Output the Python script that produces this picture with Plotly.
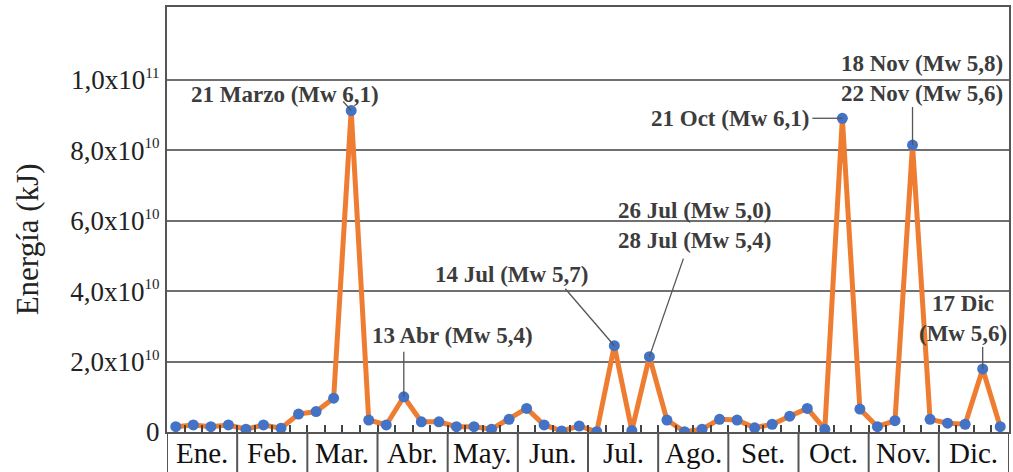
import plotly.graph_objects as go

months = ["Ene.", "Feb.", "Mar.", "Abr.", "May.", "Jun.", "Jul.", "Ago.", "Set.", "Oct.", "Nov.", "Dic."]
weeks_per_month = 4

# Weekly energy (units of 1e10 kJ), 4 values per month
energy_e10 = [
    0.15, 0.20, 0.15, 0.20,   # Ene
    0.08, 0.20, 0.11, 0.51,   # Feb
    0.58, 0.96, 9.13, 0.34,   # Mar
    0.20, 1.00, 0.29, 0.29,   # Abr
    0.15, 0.15, 0.08, 0.36,   # May
    0.67, 0.20, 0.03, 0.17,   # Jun
    0.01, 2.45, 0.04, 2.14,   # Jul
    0.34, 0.01, 0.08, 0.36,   # Ago
    0.34, 0.12, 0.22, 0.45,   # Set
    0.67, 0.08, 8.91, 0.65,   # Oct
    0.15, 0.32, 8.15, 0.36,   # Nov
    0.25, 0.22, 1.79, 0.15,   # Dic
]
energy = [v * 1e10 for v in energy_e10]

SUP = "<sup><span style='font-size:15px'>{}</span></sup>"
ytick_vals = [0, 2e10, 4e10, 6e10, 8e10, 1e11]
ytick_text = ["0",
              "2,0x10" + SUP.format("10"), "4,0x10" + SUP.format("10"),
              "6,0x10" + SUP.format("10"), "8,0x10" + SUP.format("10"),
              "1,0x10" + SUP.format("11")]

# Event labels: (week index, text, text offset px (dx, dy), leader line end offset px (lx, ly))
events = [
    (10, "21 Marzo (Mw 6,1)", (-66, -16), (-8, -9)),
    (13, "13 Abr (Mw 5,4)", (49, -61), (0, -45)),
    (25, "14 Jul (Mw 5,7)", (-103, -71), (-49, -57)),
    (27, "26 Jul (Mw 5,0)<br>28 Jul (Mw 5,4)", (45, -131), (34, -98)),
    (38, "21 Oct (Mw 6,1)", (-112, 0), (-30, 0)),
    (42, "18 Nov (Mw 5,8)<br>22 Nov (Mw 5,6)", (9, -67), (0, -38)),
    (46, "17 Dic<br>(Mw 5,6)", (-20, -50), (0, -22)),
]

n = len(energy)
xs = [i + 0.5 for i in range(n)]

SERIF = "Liberation Serif, Times New Roman, serif"
FRAME = "#555555"

fig = go.Figure()

W, H = 1013, 472
ml, mr, mt, mb = 167, 2, 7, 40
ph = H - mt - mb

# Leader lines (drawn first so markers sit on top)
for idx, txt, (dx, dy), (lx, ly) in events:
    fig.add_shape(type="line", xref="x", yref="y",
                  xsizemode="pixel", ysizemode="pixel",
                  xanchor=xs[idx], yanchor=energy[idx],
                  x0=0, y0=0, x1=lx, y1=-ly,
                  line=dict(color="#555555", width=1.3), layer="above")

fig.add_trace(go.Scatter(
    x=xs, y=energy, mode="lines+markers",
    line=dict(color="#EE7D31", width=5),
    marker=dict(color="#4472C4", size=11),
    hoverinfo="skip", showlegend=False,
))

fig.update_layout(
    width=W, height=H,
    margin=dict(l=ml, r=mr, t=mt, b=mb),
    paper_bgcolor="white", plot_bgcolor="white",
    font=dict(family=SERIF, color="#222222"),
    xaxis=dict(
        range=[0, n], showgrid=False, zeroline=False,
        showline=True, linecolor=FRAME, linewidth=2, mirror=True,
        tickmode="array", tickvals=list(range(n + 1)), showticklabels=False,
        ticks="inside", ticklen=7, tickwidth=1.5, tickcolor="#444444",
        fixedrange=True,
    ),
    yaxis=dict(
        range=[0, 1.207e11], showgrid=True, gridcolor="#707070", gridwidth=2,
        zeroline=False, showline=True, linecolor=FRAME, linewidth=2, mirror=True,
        tickmode="array", tickvals=ytick_vals, ticktext=ytick_text,
        tickfont=dict(family=SERIF, size=27, color="#222222"),
        ticks="", fixedrange=True,
    ),
)

# Month divider lines under the axis and month labels
for m in range(len(months) + 1):
    fig.add_shape(type="line", xref="x", yref="paper",
                  x0=m * weeks_per_month, x1=m * weeks_per_month,
                  y0=0, y1=-mb / ph, line=dict(color=FRAME, width=2))
for m, name in enumerate(months):
    fig.add_annotation(x=m * weeks_per_month + weeks_per_month / 2, xref="x",
                       y=-21 / ph, yref="paper", text=name, showarrow=False,
                       xanchor="center", yanchor="middle",
                       font=dict(family=SERIF, size=29, color="#111111"))

# Y-axis title
fig.add_annotation(x=-(ml - 27) / (W - ml - mr), xref="paper",
                   y=(H - mb - 239) / ph, yref="paper",
                   text="Energía (kJ)", textangle=-90, showarrow=False,
                   xanchor="center", yanchor="middle",
                   font=dict(family=SERIF, size=31, color="#222222"))

# Event labels
for idx, txt, (dx, dy), (lx, ly) in events:
    fig.add_annotation(x=xs[idx], y=energy[idx], xref="x", yref="y",
                       text=f"<b>{txt}</b>", showarrow=False,
                       xshift=dx, yshift=-dy, xanchor="center", yanchor="middle",
                       align="center",
                       font=dict(family=SERIF, size=23, color="#3c3c3c"))

fig.write_html("out.html", config={"displayModeBar": False},
               post_script="document.body.style.margin='0';")
